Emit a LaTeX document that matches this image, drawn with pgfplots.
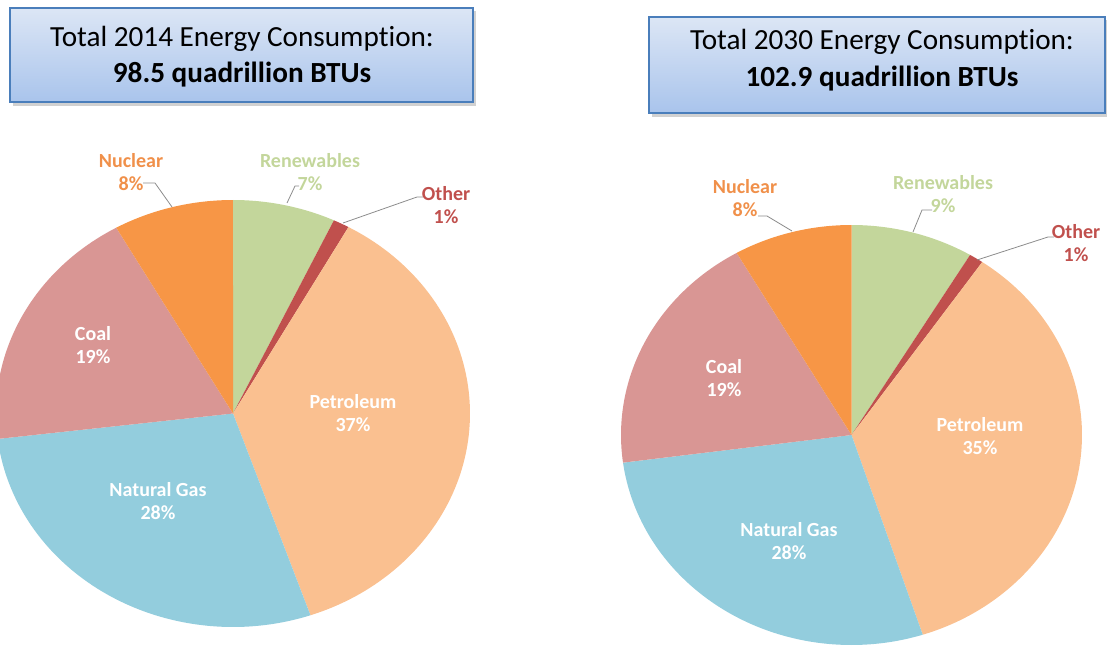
\documentclass[border=0pt]{standalone}
\usepackage{pgfplots}
\pgfplotsset{compat=1.18}
\usepackage{fontspec}
\setmainfont{Carlito}[Ligatures=NoCommon]
\definecolor{ren}{HTML}{C3D69B}
\definecolor{oth}{HTML}{C0504D}
\definecolor{pet}{HTML}{FAC090}
\definecolor{gas}{HTML}{93CDDD}
\definecolor{coal}{HTML}{D99694}
\definecolor{nuc}{HTML}{F79646}
\definecolor{nuctxt}{HTML}{F0904A}
\definecolor{boxtop}{HTML}{DCE6F5}
\definecolor{boxbot}{HTML}{A9C4EC}
\definecolor{boxline}{HTML}{4A7EBB}
\definecolor{leader}{HTML}{8C8C8C}
% cx, cy, rx, ry, start %, end %, colour
\newcommand{\pieslice}[7]{%
  \addplot[draw=none, fill=#7, domain={#5*3.6}:{#6*3.6}, samples=90, variable=\t]
    ({#1+#3*sin(\t)},{#2-#4*cos(\t)}) -- (axis cs:#1,#2) -- cycle;}
\newcommand{\lab}{\fontsize{15}{17}\selectfont\bfseries}
\begin{document}
\begin{tikzpicture}
\path[use as bounding box] (0,0) rectangle (830.25pt,486.75pt);
\begin{axis}[at={(0,0)}, anchor=south west,
  width=830.25pt, height=486.75pt, scale only axis,
  xmin=0, xmax=1107, ymin=0, ymax=649, y dir=reverse,
  hide axis, clip=true]
% ---- title boxes ----
\fill[black!30, opacity=0.6] (axis cs:13,11) rectangle (axis cs:476,106);
\shade[top color=boxtop, bottom color=boxbot, draw=boxline, line width=1.2pt]
  (axis cs:10,8) rectangle (axis cs:473,102);
\node[anchor=base, font=\fontsize{21.9}{26}\selectfont] at (axis cs:242,47) {Total 2014 Energy Consumption:};
\node[anchor=base, font=\fontsize{21.9}{26}\selectfont\bfseries] at (axis cs:242,83) {98.5 quadrillion BTUs};
\fill[black!30, opacity=0.6] (axis cs:652,20) rectangle (axis cs:1108,117);
\shade[top color=boxtop, bottom color=boxbot, draw=boxline, line width=1.2pt]
  (axis cs:649,17) rectangle (axis cs:1105,113);
\node[anchor=base, font=\fontsize{21.9}{26}\selectfont] at (axis cs:882,50) {Total 2030 Energy Consumption:};
\node[anchor=base, font=\fontsize{21.9}{26}\selectfont\bfseries] at (axis cs:882,87) {102.9 quadrillion BTUs};
% ---- 2014 pie: Renewables 7.0, Other 1.1, Petroleum 36.6, Natural Gas 28.4, Coal 18.7, Nuclear 8.2
\pieslice{233}{413.5}{237}{213.5}{0}{7.0}{ren}
\pieslice{233}{413.5}{237}{213.5}{7.0}{8.1}{oth}
\pieslice{233}{413.5}{237}{213.5}{8.1}{44.7}{pet}
\pieslice{233}{413.5}{237}{213.5}{44.7}{73.1}{gas}
\pieslice{233}{413.5}{237}{213.5}{73.1}{91.8}{coal}
\pieslice{233}{413.5}{237}{213.5}{91.8}{100}{nuc}
% ---- 2030 pie: Renewables 8.6, Other 1.0, Petroleum 35.4, Natural Gas 27.9, Coal 18.8, Nuclear 8.3
\pieslice{851.5}{435}{230.5}{210}{0}{8.6}{ren}
\pieslice{851.5}{435}{230.5}{210}{8.6}{9.6}{oth}
\pieslice{851.5}{435}{230.5}{210}{9.6}{45.0}{pet}
\pieslice{851.5}{435}{230.5}{210}{45.0}{72.9}{gas}
\pieslice{851.5}{435}{230.5}{210}{72.9}{91.7}{coal}
\pieslice{851.5}{435}{230.5}{210}{91.7}{100}{nuc}
% ---- leader lines ----
\draw[leader, line width=0.6pt] (axis cs:143,183) -- (axis cs:155,183) -- (axis cs:172,207);
\draw[leader, line width=0.6pt] (axis cs:287,203) -- (axis cs:295,186) -- (axis cs:299,186);
\draw[leader, line width=0.6pt] (axis cs:343,223) -- (axis cs:417,197) -- (axis cs:423,197);
\draw[leader, line width=0.6pt] (axis cs:758,216) -- (axis cs:767,216) -- (axis cs:792,231);
\draw[leader, line width=0.6pt] (axis cs:932,210) -- (axis cs:922,210) -- (axis cs:913,232);
\draw[leader, line width=0.6pt] (axis cs:977,260) -- (axis cs:1048,237) -- (axis cs:1054,237);
% ---- labels 2014 ----
\node[align=center, text=nuctxt, font=\lab] at (axis cs:131,172) {Nuclear\\8\%};
\node[align=center, text=ren, font=\lab] at (axis cs:310,172) {Renewables\\7\%};
\node[align=center, text=oth, font=\lab] at (axis cs:446,205) {Other\\1\%};
\node[align=center, text=white, font=\lab] at (axis cs:93,345) {Coal\\19\%};
\node[align=center, text=white, font=\lab] at (axis cs:353,413) {Petroleum\\37\%};
\node[align=center, text=white, font=\lab] at (axis cs:158,501) {Natural Gas\\28\%};
% ---- labels 2030 ----
\node[align=center, text=nuctxt, font=\lab] at (axis cs:745,198) {Nuclear\\8\%};
\node[align=center, text=ren, font=\lab] at (axis cs:943,194) {Renewables\\9\%};
\node[align=center, text=oth, font=\lab] at (axis cs:1076,243) {Other\\1\%};
\node[align=center, text=white, font=\lab] at (axis cs:724,378) {Coal\\19\%};
\node[align=center, text=white, font=\lab] at (axis cs:980,436) {Petroleum\\35\%};
\node[align=center, text=white, font=\lab] at (axis cs:789,541) {Natural Gas\\28\%};
\end{axis}
\end{tikzpicture}
\end{document}
